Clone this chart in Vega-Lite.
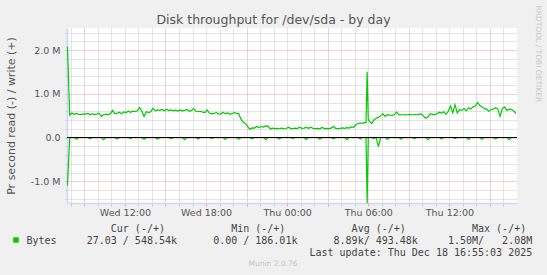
{
  "$schema": "https://vega.github.io/schema/vega-lite/v6.json",
  "width": 450,
  "height": 175,
  "autosize": {"type": "none"},
  "padding": {"left": 67, "top": 28, "right": 30, "bottom": 72},
  "background": "#f0f0f0",
  "config": {"view": {"fill": "#ffffff", "stroke": null}},
  "title": {"text": "Munin 2.0.76", "orient": "bottom", "anchor": "middle", "frame": "group", "dx": -19, "offset": 3, "font": "DejaVu Sans", "fontSize": 7.5, "fontWeight": "normal", "color": "#c4c4c4", "baseline": "top"},
  "data": {"values": [
    {"time": "2025-12-17T07:45", "write": 2080000, "read": -1100000},
    {"time": "2025-12-17T07:55", "write": 510000, "read": 0},
    {"time": "2025-12-17T08:05", "write": 560000, "read": 0},
    {"time": "2025-12-17T08:15", "write": 530000, "read": 0},
    {"time": "2025-12-17T08:25", "write": 550000, "read": -40000},
    {"time": "2025-12-17T08:35", "write": 530000, "read": 0},
    {"time": "2025-12-17T08:45", "write": 525000, "read": 0},
    {"time": "2025-12-17T08:55", "write": 540000, "read": 0},
    {"time": "2025-12-17T09:05", "write": 535000, "read": 0},
    {"time": "2025-12-17T09:15", "write": 550000, "read": 0},
    {"time": "2025-12-17T09:25", "write": 525000, "read": -30000},
    {"time": "2025-12-17T09:35", "write": 540000, "read": 0},
    {"time": "2025-12-17T09:45", "write": 530000, "read": 0},
    {"time": "2025-12-17T09:55", "write": 535000, "read": 0},
    {"time": "2025-12-17T10:05", "write": 555000, "read": 0},
    {"time": "2025-12-17T10:15", "write": 480000, "read": 0},
    {"time": "2025-12-17T10:25", "write": 520000, "read": -50000},
    {"time": "2025-12-17T10:35", "write": 535000, "read": 0},
    {"time": "2025-12-17T10:45", "write": 525000, "read": 0},
    {"time": "2025-12-17T10:55", "write": 540000, "read": 0},
    {"time": "2025-12-17T11:05", "write": 620000, "read": 0},
    {"time": "2025-12-17T11:15", "write": 545000, "read": 0},
    {"time": "2025-12-17T11:25", "write": 550000, "read": -35000},
    {"time": "2025-12-17T11:35", "write": 580000, "read": 0},
    {"time": "2025-12-17T11:45", "write": 545000, "read": 0},
    {"time": "2025-12-17T11:55", "write": 585000, "read": 0},
    {"time": "2025-12-17T12:05", "write": 570000, "read": 0},
    {"time": "2025-12-17T12:15", "write": 600000, "read": 0},
    {"time": "2025-12-17T12:25", "write": 575000, "read": -25000},
    {"time": "2025-12-17T12:35", "write": 600000, "read": 0},
    {"time": "2025-12-17T12:45", "write": 590000, "read": 0},
    {"time": "2025-12-17T12:55", "write": 610000, "read": 0},
    {"time": "2025-12-17T13:05", "write": 690000, "read": 0},
    {"time": "2025-12-17T13:15", "write": 600000, "read": 0},
    {"time": "2025-12-17T13:25", "write": 480000, "read": -45000},
    {"time": "2025-12-17T13:35", "write": 590000, "read": 0},
    {"time": "2025-12-17T13:45", "write": 570000, "read": 0},
    {"time": "2025-12-17T13:55", "write": 590000, "read": 0},
    {"time": "2025-12-17T14:05", "write": 670000, "read": 0},
    {"time": "2025-12-17T14:15", "write": 610000, "read": 0},
    {"time": "2025-12-17T14:25", "write": 630000, "read": -40000},
    {"time": "2025-12-17T14:35", "write": 620000, "read": 0},
    {"time": "2025-12-17T14:45", "write": 640000, "read": 0},
    {"time": "2025-12-17T14:55", "write": 610000, "read": 0},
    {"time": "2025-12-17T15:05", "write": 645000, "read": 0},
    {"time": "2025-12-17T15:15", "write": 615000, "read": 0},
    {"time": "2025-12-17T15:25", "write": 630000, "read": -30000},
    {"time": "2025-12-17T15:35", "write": 610000, "read": 0},
    {"time": "2025-12-17T15:45", "write": 625000, "read": 0},
    {"time": "2025-12-17T15:55", "write": 605000, "read": 0},
    {"time": "2025-12-17T16:05", "write": 630000, "read": 0},
    {"time": "2025-12-17T16:15", "write": 610000, "read": 0},
    {"time": "2025-12-17T16:25", "write": 620000, "read": -50000},
    {"time": "2025-12-17T16:35", "write": 640000, "read": 0},
    {"time": "2025-12-17T16:45", "write": 605000, "read": 0},
    {"time": "2025-12-17T16:55", "write": 615000, "read": 0},
    {"time": "2025-12-17T17:05", "write": 660000, "read": 0},
    {"time": "2025-12-17T17:15", "write": 600000, "read": 0},
    {"time": "2025-12-17T17:25", "write": 590000, "read": -35000},
    {"time": "2025-12-17T17:35", "write": 600000, "read": 0},
    {"time": "2025-12-17T17:45", "write": 580000, "read": 0},
    {"time": "2025-12-17T17:55", "write": 570000, "read": 0},
    {"time": "2025-12-17T18:05", "write": 630000, "read": 0},
    {"time": "2025-12-17T18:15", "write": 560000, "read": 0},
    {"time": "2025-12-17T18:25", "write": 540000, "read": -25000},
    {"time": "2025-12-17T18:35", "write": 550000, "read": 0},
    {"time": "2025-12-17T18:45", "write": 570000, "read": 0},
    {"time": "2025-12-17T18:55", "write": 540000, "read": 0},
    {"time": "2025-12-17T19:05", "write": 535000, "read": 0},
    {"time": "2025-12-17T19:15", "write": 575000, "read": 0},
    {"time": "2025-12-17T19:25", "write": 545000, "read": -45000},
    {"time": "2025-12-17T19:35", "write": 560000, "read": 0},
    {"time": "2025-12-17T19:45", "write": 535000, "read": 0},
    {"time": "2025-12-17T19:55", "write": 540000, "read": 0},
    {"time": "2025-12-17T20:05", "write": 575000, "read": 0},
    {"time": "2025-12-17T20:15", "write": 550000, "read": 0},
    {"time": "2025-12-17T20:25", "write": 545000, "read": -40000},
    {"time": "2025-12-17T20:35", "write": 420000, "read": 0},
    {"time": "2025-12-17T20:45", "write": 350000, "read": 0},
    {"time": "2025-12-17T20:55", "write": 320000, "read": 0},
    {"time": "2025-12-17T21:05", "write": 250000, "read": 0},
    {"time": "2025-12-17T21:15", "write": 186010, "read": 0},
    {"time": "2025-12-17T21:25", "write": 220000, "read": -30000},
    {"time": "2025-12-17T21:35", "write": 215000, "read": 0},
    {"time": "2025-12-17T21:45", "write": 250000, "read": 0},
    {"time": "2025-12-17T21:55", "write": 225000, "read": 0},
    {"time": "2025-12-17T22:05", "write": 255000, "read": 0},
    {"time": "2025-12-17T22:15", "write": 240000, "read": 0},
    {"time": "2025-12-17T22:25", "write": 265000, "read": -50000},
    {"time": "2025-12-17T22:35", "write": 260000, "read": 0},
    {"time": "2025-12-17T22:45", "write": 195000, "read": 0},
    {"time": "2025-12-17T22:55", "write": 215000, "read": 0},
    {"time": "2025-12-17T23:05", "write": 205000, "read": 0},
    {"time": "2025-12-17T23:15", "write": 210000, "read": 0},
    {"time": "2025-12-17T23:25", "write": 200000, "read": -35000},
    {"time": "2025-12-17T23:35", "write": 215000, "read": 0},
    {"time": "2025-12-17T23:45", "write": 205000, "read": 0},
    {"time": "2025-12-17T23:55", "write": 200000, "read": 0},
    {"time": "2025-12-18T00:05", "write": 235000, "read": 0},
    {"time": "2025-12-18T00:15", "write": 210000, "read": 0},
    {"time": "2025-12-18T00:25", "write": 205000, "read": -25000},
    {"time": "2025-12-18T00:35", "write": 215000, "read": 0},
    {"time": "2025-12-18T00:45", "write": 205000, "read": 0},
    {"time": "2025-12-18T00:55", "write": 235000, "read": 0},
    {"time": "2025-12-18T01:05", "write": 210000, "read": 0},
    {"time": "2025-12-18T01:15", "write": 215000, "read": 0},
    {"time": "2025-12-18T01:25", "write": 230000, "read": -45000},
    {"time": "2025-12-18T01:35", "write": 210000, "read": 0},
    {"time": "2025-12-18T01:45", "write": 235000, "read": 0},
    {"time": "2025-12-18T01:55", "write": 210000, "read": 0},
    {"time": "2025-12-18T02:05", "write": 205000, "read": 0},
    {"time": "2025-12-18T02:15", "write": 210000, "read": 0},
    {"time": "2025-12-18T02:25", "write": 200000, "read": -40000},
    {"time": "2025-12-18T02:35", "write": 230000, "read": 0},
    {"time": "2025-12-18T02:45", "write": 205000, "read": 0},
    {"time": "2025-12-18T02:55", "write": 210000, "read": 0},
    {"time": "2025-12-18T03:05", "write": 205000, "read": 0},
    {"time": "2025-12-18T03:15", "write": 215000, "read": 0},
    {"time": "2025-12-18T03:25", "write": 250000, "read": -30000},
    {"time": "2025-12-18T03:35", "write": 210000, "read": 0},
    {"time": "2025-12-18T03:45", "write": 205000, "read": 0},
    {"time": "2025-12-18T03:55", "write": 210000, "read": 0},
    {"time": "2025-12-18T04:05", "write": 220000, "read": 0},
    {"time": "2025-12-18T04:15", "write": 210000, "read": 0},
    {"time": "2025-12-18T04:25", "write": 225000, "read": -50000},
    {"time": "2025-12-18T04:35", "write": 215000, "read": 0},
    {"time": "2025-12-18T04:45", "write": 240000, "read": 0},
    {"time": "2025-12-18T04:55", "write": 230000, "read": 0},
    {"time": "2025-12-18T05:05", "write": 290000, "read": 0},
    {"time": "2025-12-18T05:15", "write": 320000, "read": 0},
    {"time": "2025-12-18T05:25", "write": 330000, "read": -35000},
    {"time": "2025-12-18T05:35", "write": 330000, "read": 0},
    {"time": "2025-12-18T05:45", "write": 340000, "read": 0},
    {"time": "2025-12-18T05:50", "write": 340000, "read": 0},
    {"time": "2025-12-18T05:55", "write": 1500000, "read": -1500000},
    {"time": "2025-12-18T06:00", "write": 400000, "read": 0},
    {"time": "2025-12-18T06:05", "write": 370000, "read": 0},
    {"time": "2025-12-18T06:15", "write": 320000, "read": 0},
    {"time": "2025-12-18T06:25", "write": 400000, "read": -25000},
    {"time": "2025-12-18T06:35", "write": 440000, "read": 0},
    {"time": "2025-12-18T06:45", "write": 460000, "read": -210000},
    {"time": "2025-12-18T06:55", "write": 500000, "read": 0},
    {"time": "2025-12-18T07:05", "write": 540000, "read": 0},
    {"time": "2025-12-18T07:15", "write": 480000, "read": 0},
    {"time": "2025-12-18T07:25", "write": 520000, "read": -45000},
    {"time": "2025-12-18T07:35", "write": 510000, "read": 0},
    {"time": "2025-12-18T07:45", "write": 505000, "read": 0},
    {"time": "2025-12-18T07:55", "write": 520000, "read": 0},
    {"time": "2025-12-18T08:05", "write": 580000, "read": 0},
    {"time": "2025-12-18T08:15", "write": 520000, "read": 0},
    {"time": "2025-12-18T08:25", "write": 515000, "read": -40000},
    {"time": "2025-12-18T08:35", "write": 525000, "read": 0},
    {"time": "2025-12-18T08:45", "write": 515000, "read": 0},
    {"time": "2025-12-18T08:55", "write": 520000, "read": 0},
    {"time": "2025-12-18T09:05", "write": 530000, "read": 0},
    {"time": "2025-12-18T09:15", "write": 515000, "read": 0},
    {"time": "2025-12-18T09:25", "write": 525000, "read": -30000},
    {"time": "2025-12-18T09:35", "write": 520000, "read": 0},
    {"time": "2025-12-18T09:45", "write": 530000, "read": 0},
    {"time": "2025-12-18T09:55", "write": 540000, "read": 0},
    {"time": "2025-12-18T10:05", "write": 490000, "read": 0},
    {"time": "2025-12-18T10:15", "write": 440000, "read": 0},
    {"time": "2025-12-18T10:25", "write": 470000, "read": -50000},
    {"time": "2025-12-18T10:35", "write": 545000, "read": 0},
    {"time": "2025-12-18T10:45", "write": 530000, "read": 0},
    {"time": "2025-12-18T10:55", "write": 520000, "read": 0},
    {"time": "2025-12-18T11:05", "write": 550000, "read": 0},
    {"time": "2025-12-18T11:15", "write": 580000, "read": 0},
    {"time": "2025-12-18T11:25", "write": 560000, "read": -35000},
    {"time": "2025-12-18T11:35", "write": 590000, "read": 0},
    {"time": "2025-12-18T11:45", "write": 530000, "read": 0},
    {"time": "2025-12-18T11:55", "write": 600000, "read": 0},
    {"time": "2025-12-18T12:05", "write": 720000, "read": 0},
    {"time": "2025-12-18T12:15", "write": 560000, "read": 0},
    {"time": "2025-12-18T12:25", "write": 750000, "read": -25000},
    {"time": "2025-12-18T12:35", "write": 560000, "read": 0},
    {"time": "2025-12-18T12:45", "write": 640000, "read": 0},
    {"time": "2025-12-18T12:55", "write": 620000, "read": 0},
    {"time": "2025-12-18T13:05", "write": 660000, "read": 0},
    {"time": "2025-12-18T13:15", "write": 610000, "read": 0},
    {"time": "2025-12-18T13:25", "write": 680000, "read": -45000},
    {"time": "2025-12-18T13:35", "write": 650000, "read": 0},
    {"time": "2025-12-18T13:45", "write": 700000, "read": 0},
    {"time": "2025-12-18T13:55", "write": 720000, "read": 0},
    {"time": "2025-12-18T14:05", "write": 800000, "read": 0},
    {"time": "2025-12-18T14:15", "write": 730000, "read": 0},
    {"time": "2025-12-18T14:25", "write": 700000, "read": -40000},
    {"time": "2025-12-18T14:35", "write": 660000, "read": 0},
    {"time": "2025-12-18T14:45", "write": 650000, "read": 0},
    {"time": "2025-12-18T14:55", "write": 600000, "read": 0},
    {"time": "2025-12-18T15:05", "write": 640000, "read": 0},
    {"time": "2025-12-18T15:15", "write": 650000, "read": 0},
    {"time": "2025-12-18T15:25", "write": 680000, "read": -30000},
    {"time": "2025-12-18T15:35", "write": 650000, "read": 0},
    {"time": "2025-12-18T15:45", "write": 480000, "read": 0},
    {"time": "2025-12-18T15:55", "write": 660000, "read": 0},
    {"time": "2025-12-18T16:05", "write": 700000, "read": 0},
    {"time": "2025-12-18T16:15", "write": 620000, "read": 0},
    {"time": "2025-12-18T16:25", "write": 650000, "read": -50000},
    {"time": "2025-12-18T16:35", "write": 640000, "read": 0},
    {"time": "2025-12-18T16:45", "write": 610000, "read": 0},
    {"time": "2025-12-18T16:55", "write": 548540, "read": -27}
  ]},
  "layer": [
    {
      "mark": {"type": "line", "strokeWidth": 1.2},
      "encoding": {
        "x": {"field": "time", "type": "temporal",
          "scale": {"domain": [{"year": 2025, "month": 12, "date": 17, "hours": 7, "minutes": 43}, {"year": 2025, "month": 12, "date": 18, "hours": 17, "minutes": 0}], "nice": false},
          "axis": {"orient": "bottom",
            "values": [
              {"year": 2025, "month": 12, "date": 17, "hours": 8}, {"year": 2025, "month": 12, "date": 17, "hours": 9}, {"year": 2025, "month": 12, "date": 17, "hours": 10}, {"year": 2025, "month": 12, "date": 17, "hours": 11},
              {"year": 2025, "month": 12, "date": 17, "hours": 12}, {"year": 2025, "month": 12, "date": 17, "hours": 13}, {"year": 2025, "month": 12, "date": 17, "hours": 14}, {"year": 2025, "month": 12, "date": 17, "hours": 15},
              {"year": 2025, "month": 12, "date": 17, "hours": 16}, {"year": 2025, "month": 12, "date": 17, "hours": 17}, {"year": 2025, "month": 12, "date": 17, "hours": 18}, {"year": 2025, "month": 12, "date": 17, "hours": 19},
              {"year": 2025, "month": 12, "date": 17, "hours": 20}, {"year": 2025, "month": 12, "date": 17, "hours": 21}, {"year": 2025, "month": 12, "date": 17, "hours": 22}, {"year": 2025, "month": 12, "date": 17, "hours": 23},
              {"year": 2025, "month": 12, "date": 18, "hours": 0}, {"year": 2025, "month": 12, "date": 18, "hours": 1}, {"year": 2025, "month": 12, "date": 18, "hours": 2}, {"year": 2025, "month": 12, "date": 18, "hours": 3},
              {"year": 2025, "month": 12, "date": 18, "hours": 4}, {"year": 2025, "month": 12, "date": 18, "hours": 5}, {"year": 2025, "month": 12, "date": 18, "hours": 6}, {"year": 2025, "month": 12, "date": 18, "hours": 7},
              {"year": 2025, "month": 12, "date": 18, "hours": 8}, {"year": 2025, "month": 12, "date": 18, "hours": 9}, {"year": 2025, "month": 12, "date": 18, "hours": 10}, {"year": 2025, "month": 12, "date": 18, "hours": 11},
              {"year": 2025, "month": 12, "date": 18, "hours": 12}, {"year": 2025, "month": 12, "date": 18, "hours": 13}, {"year": 2025, "month": 12, "date": 18, "hours": 14}, {"year": 2025, "month": 12, "date": 18, "hours": 15},
              {"year": 2025, "month": 12, "date": 18, "hours": 16}
            ],
            "grid": true, "gridDash": [1, 1], "gridWidth": 1,
            "gridColor": {"condition": {"test": "hours(datum.value) % 6 == 3", "value": "#e8a0a0"}, "value": "#c8c8c8"},
            "domainColor": "#cfd6f8", "domainWidth": 1.5,
            "tickSize": 3, "tickWidth": 1,
            "tickColor": {"condition": {"test": "hours(datum.value) % 3 == 0", "value": "#e8a0a0"}, "value": "#c8c8c8"},
            "labelExpr": "hours(datum.value) % 6 == 0 ? timeFormat(datum.value, '%a %H:%M') : ''",
            "labelOverlap": false, "labelFlush": false,
            "labelFont": "DejaVu Sans", "labelFontSize": 9.5, "labelColor": "#555555",
            "labelBaseline": "alphabetic", "labelPadding": 9.7,
            "title": [
              "\u200b\u00a0\u00a0\u00a0\u00a0\u00a0\u00a0\u00a0\u00a0\u00a0\u00a0\u00a0\u00a0\u00a0\u00a0Cur\u00a0(-/+)\u00a0\u00a0\u00a0\u00a0\u00a0\u00a0\u00a0\u00a0\u00a0\u00a0\u00a0Min\u00a0(-/+)\u00a0\u00a0\u00a0\u00a0\u00a0\u00a0\u00a0\u00a0\u00a0\u00a0\u00a0Avg\u00a0(-/+)\u00a0\u00a0\u00a0\u00a0\u00a0\u00a0\u00a0\u00a0\u00a0\u00a0\u00a0Max\u00a0(-/+)",
              "Bytes\u00a0\u00a0\u00a0\u00a0\u00a027.03\u00a0/\u00a0548.54k\u00a0\u00a0\u00a0\u00a0\u00a0\u00a00.00\u00a0/\u00a0186.01k\u00a0\u00a0\u00a0\u00a0\u00a0\u00a08.89k/\u00a0493.48k\u00a0\u00a0\u00a0\u00a0\u00a01.50M/\u00a0\u00a0\u00a02.08M",
              "\u200b\u00a0\u00a0\u00a0\u00a0\u00a0\u00a0\u00a0\u00a0\u00a0\u00a0\u00a0\u00a0\u00a0\u00a0\u00a0\u00a0\u00a0\u00a0\u00a0\u00a0\u00a0\u00a0\u00a0\u00a0\u00a0\u00a0\u00a0\u00a0\u00a0\u00a0\u00a0\u00a0\u00a0\u00a0\u00a0\u00a0\u00a0\u00a0\u00a0\u00a0\u00a0\u00a0\u00a0\u00a0\u00a0\u00a0\u00a0Last\u00a0update:\u00a0Thu\u00a0Dec\u00a018\u00a016:55:03\u00a02025"
            ],
            "titleFont": "DejaVu Sans Mono", "titleFontSize": 10, "titleFontWeight": "normal", "titleColor": "#444444",
            "titleAlign": "left", "titleAnchor": "start", "titleAngle": 0, "titleBaseline": "alphabetic",
            "titleX": -41, "titleY": 28, "titleLineHeight": 12
          }
        },
        "y": {"field": "write", "type": "quantitative",
          "scale": {"domain": [-1497140, 2502860], "nice": false, "zero": false},
          "axis": {"orient": "left",
            "values": [-1400000, -1200000, -1000000, -800000, -600000, -400000, -200000, 0, 200000, 400000, 600000, 800000, 1000000, 1200000, 1400000, 1600000, 1800000, 2000000, 2200000, 2400000],
            "grid": true, "gridDash": [1, 1], "gridWidth": 1,
            "gridColor": {"condition": {"test": "datum.value % 1000000 == 0", "value": "#e8a0a0"}, "value": "#c8c8c8"},
            "tickSize": 2,
            "tickColor": {"condition": {"test": "datum.value % 1000000 == 0", "value": "#e8a0a0"}, "value": "#c8c8c8"},
            "domainColor": "#cfd6f8", "domainWidth": 1.5,
            "labelExpr": "datum.value % 1000000 == 0 ? (datum.value == 0 ? '0.0' : (datum.value < 0 ? '-' : '') + format(abs(datum.value) / 1000000, '.1f') + ' M') : ''",
            "labelFont": "DejaVu Sans", "labelFontSize": 9.5, "labelColor": "#555555", "labelPadding": 5, "labelOverlap": false,
            "title": "Pr second read (-) / write (+)",
            "titleFont": "DejaVu Sans", "titleFontSize": 11, "titleFontWeight": "normal", "titleColor": "#555555",
            "titleAngle": 270, "titleAlign": "center", "titleBaseline": "middle", "titleX": -56, "titleY": 87.5
          }
        },
        "color": {"datum": "Bytes", "type": "nominal",
          "scale": {"domain": ["Bytes"], "range": ["#00cc00"]},
          "legend": {"orient": "none", "legendX": -56, "legendY": 207, "title": null, "padding": 0,
            "symbolType": "square", "symbolSize": 30, "symbolFillColor": "#00cc00", "symbolStrokeColor": "#00cc00", "symbolStrokeWidth": 0,
            "labelExpr": "''", "labelFontSize": 10}
        }
      }
    },
    {
      "mark": {"type": "line", "color": "#00cc00", "strokeWidth": 1.2},
      "encoding": {
        "x": {"field": "time", "type": "temporal",
          "scale": {"domain": [{"year": 2025, "month": 12, "date": 17, "hours": 7, "minutes": 43}, {"year": 2025, "month": 12, "date": 18, "hours": 17, "minutes": 0}], "nice": false},
          "axis": {"orient": "top", "labels": false, "ticks": false, "domain": false, "grid": false,
            "title": "Disk throughput for /dev/sda - by day",
            "titleFont": "DejaVu Sans", "titleFontSize": 12.5, "titleFontWeight": "normal", "titleColor": "#555555",
            "titleAngle": 0, "titleAlign": "center", "titleBaseline": "alphabetic", "titleX": 206, "titleY": -5
          }
        },
        "y": {"field": "read", "type": "quantitative",
          "scale": {"domain": [-1497140, 2502860], "nice": false, "zero": false},
          "axis": {"orient": "right", "labels": false, "ticks": false, "domain": false, "grid": false,
            "title": "RRDTOOL / TOBI OETIKER",
            "titleFont": "DejaVu Sans", "titleFontSize": 7.5, "titleFontWeight": "normal", "titleColor": "#c8c8c8",
            "titleAngle": 90, "titleAlign": "center", "titleBaseline": "middle", "titleX": 20, "titleY": 25.3
          }
        }
      }
    },
    {
      "mark": {"type": "rule", "color": "#000000", "strokeWidth": 1},
      "encoding": {"y": {"datum": 0, "type": "quantitative", "axis": null}}
    }
  ],
  "resolve": {"axis": {"x": "independent", "y": "independent"}}
}
